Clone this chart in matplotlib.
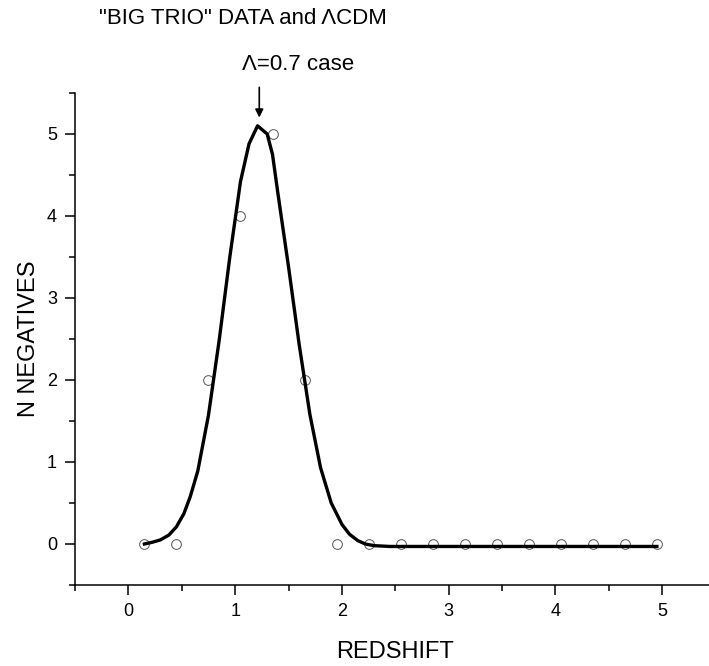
import matplotlib.pyplot as plt
from matplotlib.ticker import MultipleLocator

plt.rcParams['font.family'] = ['Liberation Sans', 'DejaVu Sans']

# observed counts (open circles)
z_data = [0.15, 0.45, 0.75, 1.05, 1.35, 1.65, 1.95, 2.25, 2.55, 2.85,
          3.15, 3.45, 3.75, 4.05, 4.35, 4.65, 4.95]
n_data = [0, 0, 2, 4, 5, 2, 0, 0, 0, 0, 0, 0, 0, 0, 0, 0, 0]

# LCDM model curve
z_model = [0.15, 0.22, 0.30, 0.38, 0.45, 0.52, 0.58, 0.65, 0.75, 0.85,
           0.95, 1.05, 1.13, 1.21, 1.30, 1.35, 1.40, 1.50, 1.60, 1.70,
           1.80, 1.90, 2.00, 2.07, 2.15, 2.22, 2.30, 2.45, 4.95]
n_model = [0.00, 0.02, 0.05, 0.11, 0.21, 0.37, 0.58, 0.89, 1.57, 2.48,
           3.50, 4.42, 4.88, 5.10, 5.00, 4.75, 4.28, 3.38, 2.43, 1.58,
           0.93, 0.50, 0.24, 0.12, 0.04, 0.00, -0.02, -0.03, -0.03]

fig = plt.figure(figsize=(7.09, 6.66), dpi=100)
ax = fig.add_axes([75 / 709, 81 / 666, 640.6 / 709, 492 / 666])

ax.plot(z_model, n_model, color='black', lw=2.4, zorder=3)
ax.plot(z_data, n_data, 'o', mfc='none', mec='#555555', mew=0.7, ms=7, zorder=2)

ax.set_xlim(-0.5, 5.5)
ax.set_ylim(-0.5, 5.5)
ax.xaxis.set_major_locator(MultipleLocator(1))
ax.xaxis.set_minor_locator(MultipleLocator(0.5))
ax.yaxis.set_major_locator(MultipleLocator(1))
ax.yaxis.set_minor_locator(MultipleLocator(0.5))

for s in ['top', 'right']:
    ax.spines[s].set_visible(False)
for s in ['left', 'bottom']:
    ax.spines[s].set_linewidth(1.1)

ax.tick_params(which='major', direction='out', length=7, width=1.1, labelsize=13, pad=6)
ax.tick_params(which='minor', direction='out', length=4, width=1.1)

ax.set_xlabel('REDSHIFT', fontsize=17, labelpad=15)
ax.set_ylabel('N NEGATIVES', fontsize=17, labelpad=5)

fig.text(99 / 709, 1 - 18 / 666, '"BIG TRIO" DATA and \u039bCDM',
         fontsize=16, ha='left', va='center')
fig.text(298 / 709, 1 - 65 / 666, '\u039b=0.7 case',
         fontsize=16, ha='center', va='center')

ax.annotate('', xy=(1.226, 5.2), xytext=(1.226, 5.57),
            arrowprops=dict(arrowstyle='-|>', color='black', lw=1.2,
                            mutation_scale=12, shrinkA=0, shrinkB=0),
            annotation_clip=False)

fig.savefig('out.png', dpi=100)
